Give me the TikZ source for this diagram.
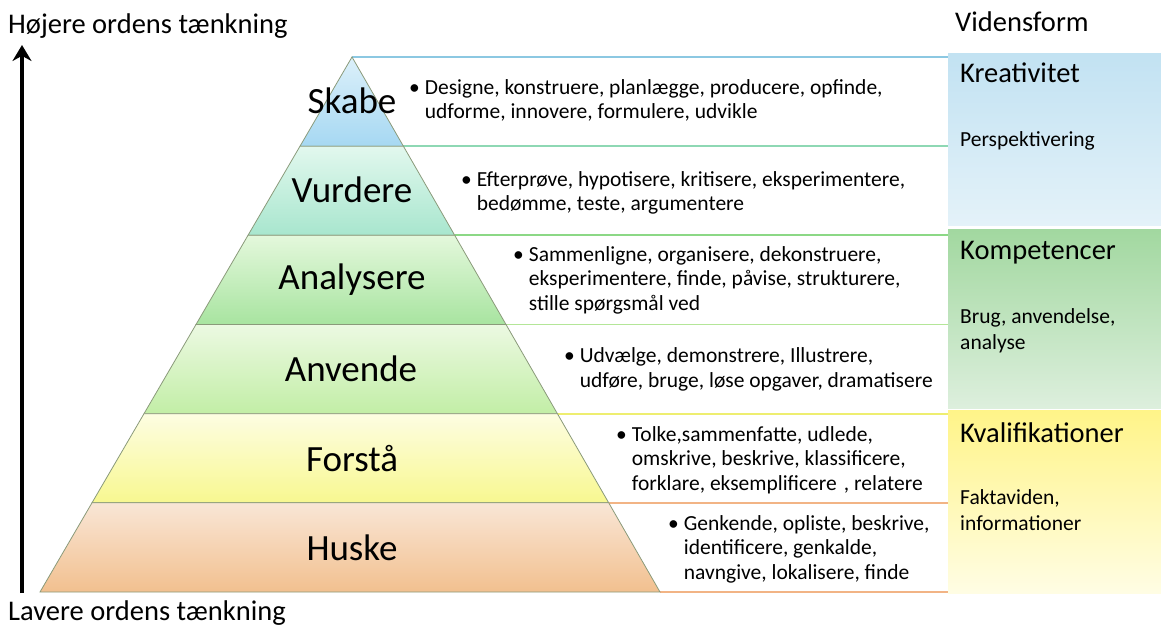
\documentclass[tikz,border=0pt]{standalone}
\usepackage{fontspec}
\setmainfont{Carlito}
\usetikzlibrary{arrows.meta}
\newcommand{\bu}{\textbullet\hspace{5pt}}
\newcommand{\ind}{\hphantom{\textbullet\hspace{5pt}}}
\definecolor{edgegray}{HTML}{8A9A7A}
\definecolor{lnA}{HTML}{8CC8E2}
\definecolor{lnB}{HTML}{8ED8B4}
\definecolor{lnC}{HTML}{8CD886}
\definecolor{lnD}{HTML}{B4E698}
\definecolor{lnE}{HTML}{EEEE70}
\definecolor{lnF}{HTML}{F2B485}
\definecolor{skT}{HTML}{DCF0FA}\definecolor{skB}{HTML}{A6D8F2}
\definecolor{vuT}{HTML}{E2F8EE}\definecolor{vuB}{HTML}{A8E6CE}
\definecolor{anT}{HTML}{E4F8DC}\definecolor{anB}{HTML}{A8E4A0}
\definecolor{avT}{HTML}{ECF9E2}\definecolor{avB}{HTML}{C2EEA6}
\definecolor{foT}{HTML}{FDFDE2}\definecolor{foB}{HTML}{F8F890}
\definecolor{huT}{HTML}{F9E6D6}\definecolor{huB}{HTML}{F2C08F}
\definecolor{krT}{HTML}{C2E2F2}\definecolor{krB}{HTML}{E4F2F9}
\definecolor{koT}{HTML}{A2D8A0}\definecolor{koB}{HTML}{DDEFDD}
\definecolor{kvT}{HTML}{FFF488}\definecolor{kvB}{HTML}{FFFDE4}
\tikzset{
  level/.style={draw=edgegray, line width=0.8pt},
  lvllabel/.style={font=\fontsize{37}{40}\selectfont, anchor=center, inner sep=0pt},
  bullets/.style={font=\fontsize{21.5}{24.5}\selectfont, align=left, anchor=base west, inner sep=0pt},
  rowline/.style={line width=1.8pt},
  boxhead/.style={font=\fontsize{28.5}{32}\selectfont, anchor=base west, inner sep=0pt},
  boxtext/.style={font=\fontsize{21.5}{26}\selectfont, align=left, anchor=base west, inner sep=0pt},
  sidetitle/.style={font=\fontsize{28.5}{32}\selectfont, anchor=base west, inner sep=0pt}
}
\begin{document}
\begin{tikzpicture}[x=1pt,y=-1pt]
\useasboundingbox (0,0) rectangle (1161,628);
% right boxes
\shade[top color=krT, bottom color=krB] (948,54) rectangle (1161,226);
\shade[top color=koT, bottom color=koB] (948,230) rectangle (1161,408);
\shade[top color=kvT, bottom color=kvB] (948,410) rectangle (1161,593);
% row lines
\draw[rowline, lnA] (352,57) -- (948,57);
\draw[rowline, lnB] (403.4,146.2) -- (948,146.2);
\draw[rowline, lnC] (454.7,235.3) -- (948,235.3);
\draw[rowline, lnD] (506,324.5) -- (948,324.5);
\draw[rowline, lnE] (557.4,413.7) -- (948,413.7);
\draw[rowline, lnF] (608.7,502.8) -- (948,502.8);
\draw[rowline, lnF] (660,592) -- (948,592);
% pyramid
\shade[top color=skT, bottom color=skB] (352,57) -- (403.4,146.2) -- (300,146.2) -- cycle;
\draw[level] (352,57) -- (403.4,146.2) -- (300,146.2) -- cycle;
\shade[top color=vuT, bottom color=vuB] (300,146.2) -- (403.4,146.2) -- (454.7,235.3) -- (248,235.3) -- cycle;
\draw[level] (300,146.2) -- (403.4,146.2) -- (454.7,235.3) -- (248,235.3) -- cycle;
\shade[top color=anT, bottom color=anB] (248,235.3) -- (454.7,235.3) -- (506,324.5) -- (196,324.5) -- cycle;
\draw[level] (248,235.3) -- (454.7,235.3) -- (506,324.5) -- (196,324.5) -- cycle;
\shade[top color=avT, bottom color=avB] (196,324.5) -- (506,324.5) -- (557.4,413.7) -- (144,413.7) -- cycle;
\draw[level] (196,324.5) -- (506,324.5) -- (557.4,413.7) -- (144,413.7) -- cycle;
\shade[top color=foT, bottom color=foB] (144,413.7) -- (557.4,413.7) -- (608.7,502.8) -- (92,502.8) -- cycle;
\draw[level] (144,413.7) -- (557.4,413.7) -- (608.7,502.8) -- (92,502.8) -- cycle;
\shade[top color=huT, bottom color=huB] (92,502.8) -- (608.7,502.8) -- (660,592) -- (40,592) -- cycle;
\draw[level] (92,502.8) -- (608.7,502.8) -- (660,592) -- (40,592) -- cycle;
% level labels
\node[lvllabel] (skabe) at (352,101) {Skabe};
\node[lvllabel] (vurdere) at (352,190) {Vurdere};
\node[lvllabel] (analysere) at (352,280) {Analysere};
\node[lvllabel] (anvende) at (351,369) {Anvende};
\node[lvllabel] (forstaa) at (352,459) {Forstå};
\node[lvllabel] (huske) at (352,548) {Huske};
% bullet texts (base anchor = last line baseline)
\node[bullets] (bskabe) at (409,119) {\bu Designe, konstruere, planlægge, producere, opfinde,\\ \ind udforme, innovere, formulere, udvikle};
\node[bullets] (bvurdere) at (461,211) {\bu Efterprøve, hypotisere, kritisere, eksperimentere,\\ \ind bedømme, teste, argumentere};
\node[bullets] (banalysere) at (513,310) {\bu Sammenligne, organisere, dekonstruere,\\ \ind eksperimentere, finde, påvise, strukturere,\\ \ind stille spørgsmål ved};
\node[bullets] (banvende) at (564,387) {\bu Udvælge, demonstrere, Illustrere,\\ \ind udføre, bruge, løse opgaver, dramatisere};
\node[bullets] (bforstaa) at (616,490) {\bu Tolke,sammenfatte, udlede,\\ \ind omskrive, beskrive, klassificere,\\ \ind forklare, eksemplificere\,\,, relatere};
\node[bullets] (bhuske) at (668,579) {\bu Genkende, opliste, beskrive,\\ \ind identificere, genkalde,\\ \ind navngive, lokalisere, finde};
% box texts
\node[boxhead] (kreativitet) at (960,83) {Kreativitet};
\node[boxtext] (perspektiv) at (960,147) {Perspektivering};
\node[boxhead] (kompetencer) at (960,260) {Kompetencer};
\node[boxtext] (brug) at (960,349) {Brug, anvendelse,\\analyse};
\node[boxhead] (kvalifikationer) at (960,442) {Kvalifikationer};
\node[boxtext] (fakta) at (960,530) {Faktaviden,\\informationer};
% side titles and arrow
\node[sidetitle] (hoejere) at (8,34) {Højere ordens tænkning};
\node[sidetitle] (lavere) at (8,620.5) {Lavere ordens tænkning};
\node[sidetitle] (vidensform) at (955,32) {Vidensform};
\coordinate (arrbot) at (22,593);
\coordinate (arrtop) at (22,45);
\draw[line width=4pt, -{Stealth[length=16pt,width=19pt]}] (arrbot) -- (arrtop);
\end{tikzpicture}
\end{document}
